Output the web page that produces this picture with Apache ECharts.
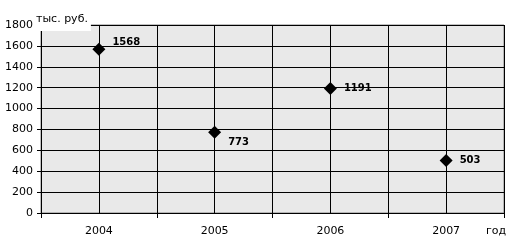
<!DOCTYPE html>
<html><head><meta charset="utf-8">
<script src="https://cdn.jsdelivr.net/npm/echarts@6/dist/echarts.min.js"></script>
<style>html,body{margin:0;padding:0;background:#fff}#c{width:519px;height:248px}</style>
</head><body><div id="c"></div>
<script>
const categories = ['2004', '2005', '2006', '2007'];
const values = [1568, 773, 1191, 503];
const labelOffsets = [[0, -7], [0, 10], [0, 0], [0, 0]];
const yMin = 0, yMax = 1800, yStep = 200;
const yTitle = 'тыс. руб.';
const xTitle = 'год';

const chart = echarts.init(document.getElementById('c'), null, {renderer: 'canvas'});
const font = 'DejaVu Sans, Verdana, sans-serif';
chart.setOption({
  animation: false,
  backgroundColor: '#ffffff',
  title: {
    text: yTitle, left: 33, top: 12, padding: [2, 3, 6, 3],
    backgroundColor: '#ffffff',
    textStyle: {color: '#000', fontSize: 11, fontWeight: 'normal', fontFamily: font}
  },
  grid: {left: 41, right: 15, top: 25, bottom: 35, show: true, backgroundColor: '#e9e9e9', borderColor: '#808080', borderWidth: 1},
  xAxis: [{
    type: 'category', data: categories, boundaryGap: true,
    axisLine: {show: true, lineStyle: {color: '#000', width: 1}},
    axisTick: {show: true, length: 5, lineStyle: {color: '#000'}},
    axisLabel: {color: '#000', fontSize: 11, fontFamily: font, margin: 13},
    splitLine: {show: false},
    name: xTitle, nameLocation: 'end', nameGap: 0,
    nameTextStyle: {color: '#000', fontSize: 11, fontFamily: font, align: 'right', verticalAlign: 'top', padding: [13, -2, 0, 0]}
  }, {
    type: 'value', min: 0, max: 4, interval: 0.5, position: 'top',
    axisLine: {show: false}, axisTick: {show: false}, axisLabel: {show: false},
    splitLine: {show: true, lineStyle: {color: '#000', width: 1}}
  }],
  yAxis: {
    type: 'value', min: yMin, max: yMax, interval: yStep,
    axisLine: {show: true, lineStyle: {color: '#000'}},
    axisTick: {show: true, length: 4, lineStyle: {color: '#000'}},
    axisLabel: {color: '#000', fontSize: 11, fontFamily: font, margin: 8, formatter: v => String(v)},
    splitLine: {show: true, lineStyle: {color: '#000', width: 1}}
  },
  series: [{
    type: 'scatter', xAxisIndex: 0,
    symbol: 'diamond', symbolSize: 13,
    itemStyle: {color: '#000', opacity: 1},
    data: values.map((v, i) => ({value: v, label: {offset: labelOffsets[i]}})),
    label: {show: true, position: 'right', distance: 7, color: '#000', fontSize: 10, fontWeight: 'bold', fontFamily: font}
  }]
});
</script></body></html>
